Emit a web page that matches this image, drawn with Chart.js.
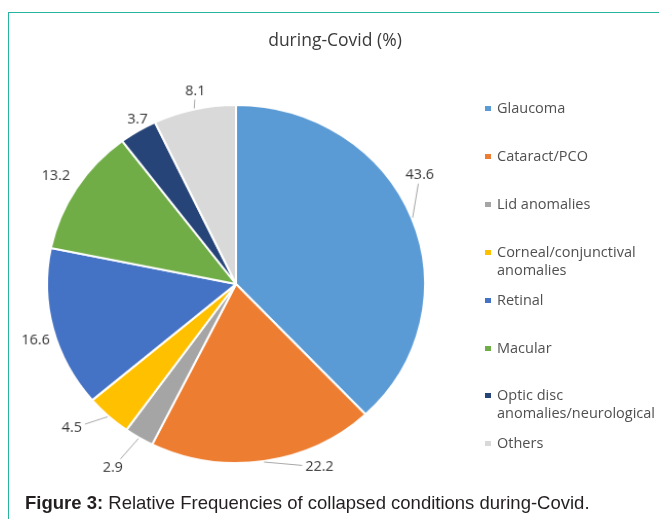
<!DOCTYPE html>
<html>
<head>
<meta charset="utf-8">
<script src="https://cdn.jsdelivr.net/npm/chart.js@4/dist/chart.umd.min.js"></script>
<style>
  html, body { margin: 0; padding: 0; background: #ffffff; }
  #wrap { position: relative; width: 659px; height: 519px; overflow: hidden; background: #fff; }
  #frame { position: absolute; left: 8px; top: 12px; width: 700px; height: 600px;
           border-top: 1.5px solid #27b5a1; border-left: 1.5px solid #27b5a1; box-sizing: border-box; }
  canvas { position: absolute; left: 0; top: 0; transform-origin: 236px 284px; transform: scale(1.027, 0.973); }
  #title { position: absolute; left: 0; width: 670px; top: 27px; text-align: center;
           font-family: "Open Sans", sans-serif; font-size: 17.5px; color: #3a3a3a; }
  .lg { position: absolute; left: 485px; font-family: "Open Sans", sans-serif; font-size: 14.5px;
        line-height: 18px; color: #505050; }
  .lg .sw { position: absolute; left: 0; top: 7px; width: 6px; height: 5px; }
  .lg .tx { margin-left: 12px; white-space: nowrap; }
  #caption { position: absolute; left: 25px; top: 492px; font-family: "Liberation Sans", Arial, sans-serif;
             font-size: 18.5px; color: #231f20; white-space: nowrap; }
</style>
</head>
<body>
<div id="wrap">
  <div id="frame"></div>
  <canvas id="c" width="659" height="519"></canvas>
  <div id="title">during-Covid (%)</div>
  <div id="legend"></div>
  <div id="caption"><b>Figure 3:</b> Relative Frequencies of collapsed conditions during-Covid.</div>
</div>
<script>
// ---- data ----
const categories = ["Glaucoma", "Cataract/PCO", "Lid anomalies", "Corneal/conjunctival anomalies",
                    "Retinal", "Macular", "Optic disc anomalies/neurological", "Others"];
const legendLines = [["Glaucoma"], ["Cataract/PCO"], ["Lid anomalies"], ["Corneal/conjunctival", "anomalies"],
                     ["Retinal"], ["Macular"], ["Optic disc", "anomalies/neurological"], ["Others"]];
const values = [43.6, 22.2, 2.9, 4.5, 16.6, 13.2, 3.7, 8.1];
const valueLabels = ["43.6", "22.2", "2.9", "4.5", "16.6", "13.2", "3.7", "8.1"];

// ---- style ----
const colors = ["#5b9bd5", "#ed7d31", "#a5a5a5", "#ffc000", "#4472c4", "#70ad47", "#264478", "#d9d9d9"];
// label offset from the slice's outer mid-point (px), and whether a leader line is drawn
const labelNudge = [[7, -44], [54, 5], [-25, 30], [-35, 12], [-16, 12], [-19, -12], [0, -11], [1, -18]];
const leader = [true, true, true, true, false, false, false, true];

// legend (HTML, real text)
const lg = document.getElementById('legend');
legendLines.forEach((lines, i) => {
  const d = document.createElement('div');
  d.className = 'lg';
  d.style.top = (99 + i * 47.9) + 'px';
  d.innerHTML = '<span class="sw" style="background:' + colors[i] + '"></span><div class="tx">' +
                lines.join('<br>') + '</div>';
  lg.appendChild(d);
});

const labelPlugin = {
  id: 'outLabels',
  afterDatasetsDraw(chart) {
    const ctx = chart.ctx;
    const meta = chart.getDatasetMeta(0);
    ctx.save();
    ctx.font = '14px "Open Sans", sans-serif';
    ctx.fillStyle = '#333333';
    ctx.textAlign = 'center';
    ctx.textBaseline = 'middle';
    meta.data.forEach((arc, i) => {
      const p = arc.getProps(['x', 'y', 'startAngle', 'endAngle', 'outerRadius'], true);
      const mid = (p.startAngle + p.endAngle) / 2;
      const ex = p.x + Math.cos(mid) * (p.outerRadius + 1);
      const ey = p.y + Math.sin(mid) * (p.outerRadius + 1);
      const lx = ex + labelNudge[i][0];
      const ly = ey + labelNudge[i][1];
      const txt = valueLabels[i];
      ctx.fillText(txt, lx, ly);
      if (leader[i]) {
        const hw = ctx.measureText(txt).width / 2 + 3;
        const hh = 9;
        const dx = ex - lx, dy = ey - ly;
        const t = Math.min(dx !== 0 ? hw / Math.abs(dx) : Infinity, dy !== 0 ? hh / Math.abs(dy) : Infinity);
        if (t < 1) {
          ctx.beginPath();
          ctx.strokeStyle = '#a6a6a6';
          ctx.lineWidth = 1;
          ctx.moveTo(lx + dx * t, ly + dy * t);
          ctx.lineTo(ex, ey);
          ctx.stroke();
        }
      }
    });
    ctx.restore();
  }
};

new Chart(document.getElementById('c'), {
  type: 'pie',
  data: {
    labels: categories,
    datasets: [{
      data: values,
      backgroundColor: colors,
      borderColor: '#ffffff',
      borderWidth: 2
    }]
  },
  options: {
    responsive: false,
    animation: false,
    devicePixelRatio: 1,
    layout: { padding: { left: 51, right: 238, top: 99, bottom: 50 } },
    plugins: {
      legend: { display: false },
      title: { display: false },
      tooltip: { enabled: false }
    }
  },
  plugins: [labelPlugin]
});
</script>
</body>
</html>
